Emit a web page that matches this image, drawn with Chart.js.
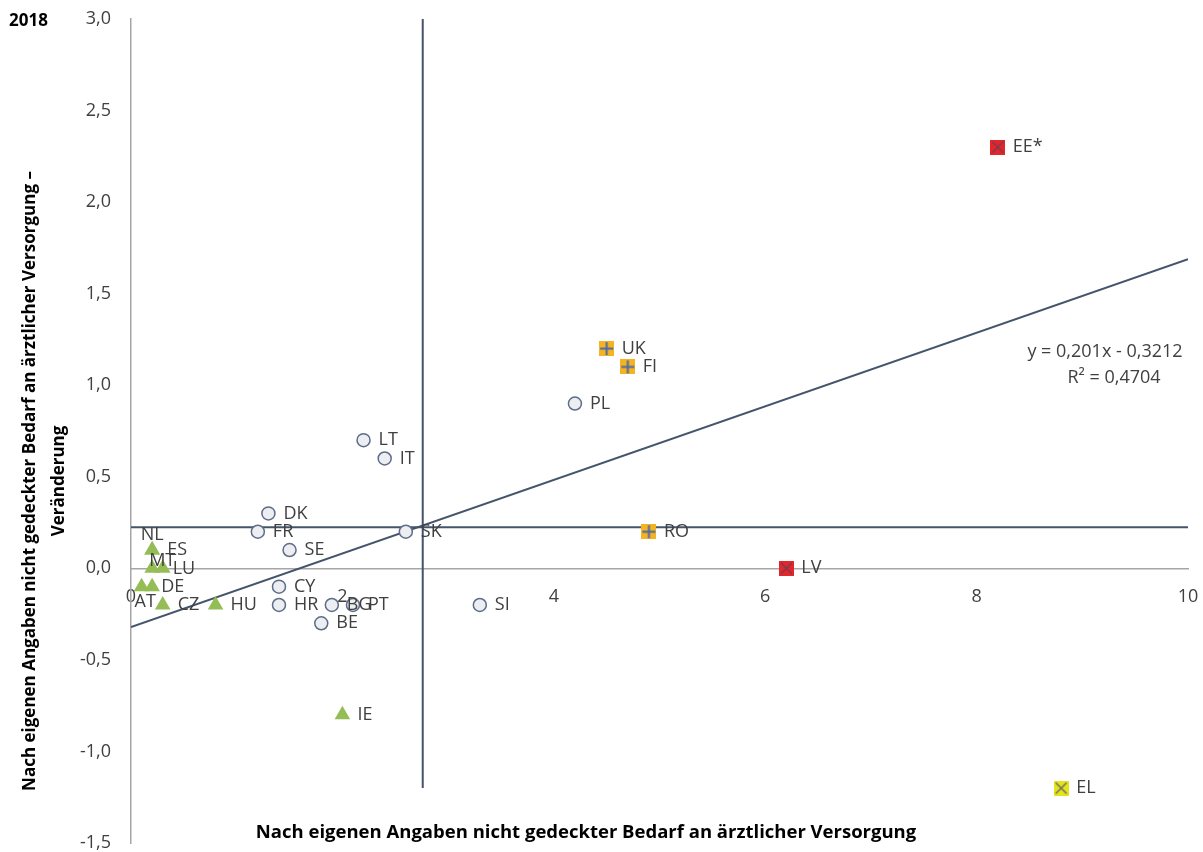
<!DOCTYPE html>
<html>
<head>
<meta charset="utf-8">
<script src="https://cdn.jsdelivr.net/npm/chart.js@4.4.1/dist/chart.umd.min.js"></script>
<style>
html, body { margin: 0; padding: 0; background: #ffffff; }
#wrap { width: 1203px; height: 852px; position: relative; }
</style>
</head>
<body>
<div id="wrap"><canvas id="chart"></canvas></div>
<script>
// Länder mit Kreis-Markern
const circleCountries = ["PL", "LT", "IT", "DK", "FR", "SE", "SK", "CY", "HR", "BG", "PT", "BE", "SI"];
const circleX = [4.2, 2.2, 2.4, 1.3, 1.2, 1.5, 2.6, 1.4, 1.4, 1.9, 2.1, 1.8, 3.3];
const circleY = [0.9, 0.7, 0.6, 0.3, 0.2, 0.1, 0.2, -0.1, -0.2, -0.2, -0.2, -0.3, -0.2];

// Länder mit Dreieck-Markern
const triangleCountries = ["NL", "ES", "MT", "LU", "AT", "DE", "CZ", "HU", "IE"];
const triangleX = [0.2, 0.2, 0.2, 0.3, 0.1, 0.2, 0.3, 0.8, 2.0];
const triangleY = [0.1, 0.1, 0.0, 0.0, -0.1, -0.1, -0.2, -0.2, -0.8];

// orange Quadrate mit Plus
const plusCountries = ["UK", "FI", "RO"];
const plusX = [4.5, 4.7, 4.9];
const plusY = [1.2, 1.1, 0.2];

// rote Quadrate mit Kreuz
const redCountries = ["EE*", "LV"];
const redX = [8.2, 6.2];
const redY = [2.3, 0.0];

// gelbes Quadrat mit Kreuz
const yellowCountries = ["EL"];
const yellowX = [8.8];
const yellowY = [-1.2];

// Mittelwerte und Trendlinie
const meanX = 2.76;
const meanY = 0.225;
const meanXLineY = [3.0, -1.2];
const trendSlope = 0.201;
const trendIntercept = -0.3212;
const trendR2 = 0.4704;

const xTicks = [0, 2, 4, 6, 8, 10];
const yTicks = [3.0, 2.5, 2.0, 1.5, 1.0, 0.5, 0.0, -0.5, -1.0, -1.5];

const LINE_COLOR = "#44546a";
const TEXT_COLOR = "#404040";
const FONT = "'Open Sans', sans-serif";

// Beschriftungspositionen, die vom Standard (rechts) abweichen
const labelPlacement = {
    NL: { dx: 0, dy: -15, align: "center" },
    MT: { dx: -3, dy: -7, align: "left" },
    LU: { dx: 10, dy: 1, align: "left" },
    AT: { dx: -7, dy: 15, align: "left" },
    DE: { dx: 9, dy: 0, align: "left" }
};

function toPoints(xs, ys) {
    return xs.map((x, i) => ({ x: x, y: ys[i] }));
}

function comma(value, digits) {
    return value.toFixed(digits).replace(".", ",");
}

function makeSquareMarker(fill, crossColor, kind) {
    const size = 15;
    const c = document.createElement("canvas");
    c.width = size;
    c.height = size;
    const g = c.getContext("2d");
    g.fillStyle = fill;
    g.fillRect(0, 0, size, size);
    g.strokeStyle = crossColor;
    g.lineWidth = kind === "plus" ? 2 : 1.5;
    g.beginPath();
    if (kind === "plus") {
        g.moveTo(size / 2, 1);
        g.lineTo(size / 2, size - 1);
        g.moveTo(1, size / 2);
        g.lineTo(size - 1, size / 2);
    } else {
        g.moveTo(2, 2);
        g.lineTo(size - 2, size - 2);
        g.moveTo(size - 2, 2);
        g.lineTo(2, size - 2);
    }
    g.stroke();
    return c;
}

const plusMarker = makeSquareMarker("#f5b323", "#4a6aa8", "plus");
const redMarker = makeSquareMarker("#e3262b", "#7b3c4c", "cross");
const yellowMarker = makeSquareMarker("#e4e41e", "#707060", "cross");

const countryLabels = {
    id: "countryLabels",
    afterDatasetsDraw(chart) {
        const ctx = chart.ctx;
        ctx.save();
        ctx.font = "18px " + FONT;
        ctx.fillStyle = TEXT_COLOR;
        ctx.textBaseline = "middle";
        chart.data.datasets.forEach((ds, i) => {
            if (!ds.countries) return;
            const meta = chart.getDatasetMeta(i);
            meta.data.forEach((pt, j) => {
                const name = ds.countries[j];
                const place = labelPlacement[name] || { dx: 15, dy: 0, align: "left" };
                ctx.textAlign = place.align;
                ctx.fillText(name, pt.x + place.dx, pt.y + place.dy);
            });
        });
        ctx.restore();
    }
};

const chartTexts = {
    id: "chartTexts",
    afterDraw(chart) {
        const ctx = chart.ctx;
        ctx.save();
        ctx.fillStyle = "#000000";
        ctx.textBaseline = "middle";

        ctx.font = "bold 17px " + FONT;
        ctx.textAlign = "left";
        ctx.fillText("2018", 9, 21);

        ctx.font = "bold 18.5px " + FONT;
        ctx.textAlign = "center";
        ctx.fillText("Nach eigenen Angaben nicht gedeckter Bedarf an ärztlicher Versorgung", 586, 833);

        ctx.font = "bold 17px " + FONT;
        ctx.save();
        ctx.translate(30, 481);
        ctx.rotate(-Math.PI / 2);
        ctx.fillText("Nach eigenen Angaben nicht gedeckter Bedarf an ärztlicher Versorgung –", 0, 0);
        ctx.fillText("Veränderung", 0, 29);
        ctx.restore();

        // Trendlinien-Gleichung
        ctx.font = "18px " + FONT;
        ctx.fillStyle = TEXT_COLOR;
        ctx.fillText("y = " + comma(trendSlope, 3) + "x - " + comma(-trendIntercept, 4), 1105, 352);
        ctx.fillText("R² = " + comma(trendR2, 4), 1114, 378);
        ctx.restore();
    }
};

function noPadding(scale) {
    scale.paddingTop = 0;
    scale.paddingBottom = 0;
    scale.paddingLeft = 0;
    scale.paddingRight = 0;
}

const trendX = [xTicks[0], xTicks[xTicks.length - 1]];

new Chart(document.getElementById("chart"), {
    type: "scatter",
    data: {
        datasets: [
            {
                label: "Kreis",
                countries: circleCountries,
                data: toPoints(circleX, circleY),
                pointStyle: "circle",
                pointRadius: 6.5,
                backgroundColor: "#eceef2",
                borderColor: "#5d6d89",
                borderWidth: 1.5
            },
            {
                label: "Dreieck",
                countries: triangleCountries,
                data: toPoints(triangleX, triangleY),
                pointStyle: "triangle",
                pointRadius: 9,
                backgroundColor: "#94bd55",
                borderColor: "#94bd55",
                borderWidth: 0
            },
            {
                label: "Plus",
                countries: plusCountries,
                data: toPoints(plusX, plusY),
                pointStyle: plusMarker
            },
            {
                label: "Rot",
                countries: redCountries,
                data: toPoints(redX, redY),
                pointStyle: redMarker
            },
            {
                label: "Gelb",
                countries: yellowCountries,
                data: toPoints(yellowX, yellowY),
                pointStyle: yellowMarker
            },
            {
                label: "Trend",
                data: trendX.map(x => ({ x: x, y: trendSlope * x + trendIntercept })),
                showLine: true,
                pointRadius: 0,
                borderColor: LINE_COLOR,
                borderWidth: 2
            },
            {
                label: "Mittelwert x",
                data: meanXLineY.map(y => ({ x: meanX, y: y })),
                showLine: true,
                pointRadius: 0,
                borderColor: LINE_COLOR,
                borderWidth: 2
            },
            {
                label: "Mittelwert y",
                data: trendX.map(x => ({ x: x, y: meanY })),
                showLine: true,
                pointRadius: 0,
                borderColor: LINE_COLOR,
                borderWidth: 2
            }
        ]
    },
    options: {
        responsive: true,
        maintainAspectRatio: false,
        animation: false,
        layout: {
            padding: { top: 19, right: 15, bottom: 9, left: 0 }
        },
        plugins: {
            legend: { display: false },
            tooltip: { enabled: false }
        },
        scales: {
            x: {
                type: "linear",
                position: { y: 0 },
                min: xTicks[0],
                max: xTicks[xTicks.length - 1],
                afterBuildTicks: scale => {
                    scale.ticks = xTicks.map(v => ({ value: v }));
                },
                afterFit: noPadding,
                grid: { color: "transparent", drawTicks: false },
                border: { display: true, color: "#a6a6a6", width: 1.5 },
                ticks: {
                    padding: 18,
                    color: TEXT_COLOR,
                    font: { size: 18, family: FONT },
                    callback: value => String(value)
                }
            },
            y: {
                type: "linear",
                position: "left",
                min: yTicks[yTicks.length - 1],
                max: yTicks[0],
                afterBuildTicks: scale => {
                    scale.ticks = yTicks.map(v => ({ value: v }));
                },
                afterFit: scale => {
                    noPadding(scale);
                    scale.width = 131;
                },
                grid: { color: "transparent", drawTicks: false },
                border: { display: true, color: "#a6a6a6", width: 1.5 },
                ticks: {
                    padding: 20,
                    color: TEXT_COLOR,
                    font: { size: 18, family: FONT },
                    callback: value => comma(value, 1)
                }
            }
        }
    },
    plugins: [countryLabels, chartTexts]
});
</script>
</body>
</html>
